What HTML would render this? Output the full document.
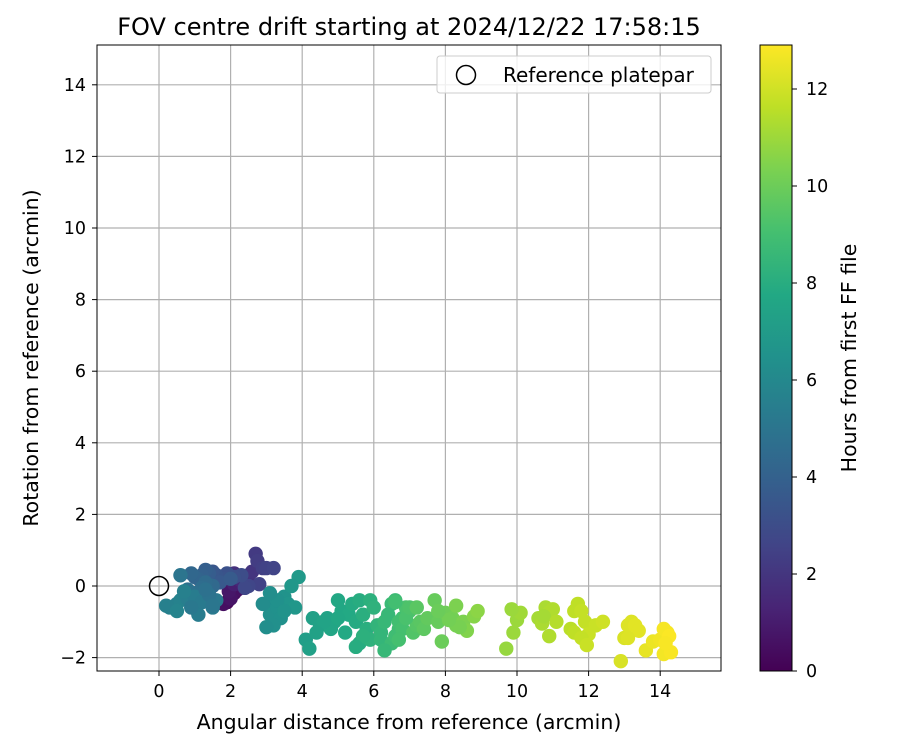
<!DOCTYPE html>
<html><head><meta charset="utf-8"><style>
body{margin:0;background:#fff;font-family:"Liberation Sans","DejaVu Sans",sans-serif}
svg text{font-family:"DejaVu Sans","Liberation Sans",sans-serif;fill:#000}
</style></head><body>
<svg id="c" width="900" height="750" xmlns="http://www.w3.org/2000/svg">
<defs>
<linearGradient id="vir" x1="0" y1="1" x2="0" y2="0">
<stop offset="0" stop-color="#440154"/><stop offset="0.1" stop-color="#482475"/><stop offset="0.2" stop-color="#414487"/><stop offset="0.3" stop-color="#355f8d"/><stop offset="0.4" stop-color="#2a788e"/><stop offset="0.5" stop-color="#21918c"/><stop offset="0.6" stop-color="#22a884"/><stop offset="0.7" stop-color="#44bf70"/><stop offset="0.8" stop-color="#7ad151"/><stop offset="0.9" stop-color="#bddf26"/><stop offset="1" stop-color="#fde725"/>
</linearGradient>
<clipPath id="plotclip"><rect x="97" y="45" width="624" height="626"/></clipPath>
</defs>
<text x="409" y="35" font-size="24" text-anchor="middle">FOV centre drift starting at 2024/12/22 17:58:15</text>
<g id="grid"></g>
<g id="pts" clip-path="url(#plotclip)"></g>
<rect x="97" y="45" width="624" height="626" fill="none" stroke="#000" stroke-width="1"/>
<g id="ticks"></g>
<text x="409" y="729" font-size="20.5" text-anchor="middle">Angular distance from reference (arcmin)</text>
<text transform="translate(38,358) rotate(-90)" font-size="20.5" text-anchor="middle">Rotation from reference (arcmin)</text>
<g>
<rect x="437" y="56" width="274" height="37" rx="3" fill="#fff" stroke="#ccc" stroke-width="1" fill-opacity="0.8"/>
<circle cx="466" cy="75" r="9.5" fill="none" stroke="#000" stroke-width="1.5"/>
<text x="503" y="82" font-size="20">Reference platepar</text>
</g>
<rect x="760" y="45" width="32" height="626" fill="url(#vir)" stroke="#000" stroke-width="1"/>
<g id="cbticks"></g>
<text transform="translate(856,358) rotate(-90)" font-size="20.5" text-anchor="middle">Hours from first FF file</text>
</svg>
<script>
const xTicks=[0,2,4,6,8,10,12,14];
const yTicks=[-2,0,2,4,6,8,10,12,14];
const cbTicks=[0,2,4,6,8,10,12];
const xs=[1.9,2.0,2.1,1.8,2.2,2.0,1.95,2.3,2.1,2.2,2.4,2.3,2.5,2.1,2.6,2.7,2.75,2.9,3.0,3.2,2.8,2.5,2.4,2.3,2.1,1.9,1.8,1.6,1.5,1.7,2.0,1.4,1.3,1.2,1.1,1.0,0.9,1.5,1.3,1.2,1.0,0.8,0.6,0.7,1.6,1.5,1.1,0.5,0.3,0.2,0.6,0.5,0.8,1.0,1.2,0.7,0.9,1.4,1.3,1.5,3.0,3.1,3.3,3.5,3.4,3.6,3.8,3.9,3.7,3.2,3.0,3.3,3.5,2.9,3.1,4.1,4.2,4.3,4.5,4.7,4.9,5.0,5.1,4.8,4.6,4.4,5.3,5.5,5.2,5.6,5.8,5.0,5.4,5.6,5.7,5.9,6.0,6.1,5.9,5.7,5.5,6.2,6.3,6.5,6.6,6.4,6.2,6.7,6.8,6.5,6.3,6.6,6.7,6.9,7.0,6.8,6.6,7.1,7.2,6.9,6.7,7.0,7.3,7.4,7.5,7.2,7.8,7.9,7.7,8.0,8.2,8.3,8.5,8.6,8.4,8.8,8.9,8.1,7.8,8.3,9.7,9.9,10.0,10.1,9.85,10.6,10.7,10.8,10.9,11.0,10.75,11.1,10.9,11.5,11.6,11.7,11.8,11.9,12.0,12.2,11.6,12.4,11.8,11.95,13.0,13.1,13.2,13.3,13.4,13.1,13.6,13.8,12.9,14.0,14.1,14.2,14.3,14.1,14.25,14.15];
const ys=[-0.45,-0.3,-0.2,-0.5,-0.1,-0.35,-0.15,0.1,0.05,0.2,-0.05,0.15,0.3,0.35,0.4,0.9,0.7,0.5,0.5,0.5,0.05,0.0,-0.05,0.3,0.25,0.35,0.2,0.3,0.4,0.1,0.2,0.35,0.45,0.3,0.2,0.25,0.35,0.0,0.1,-0.05,-0.2,-0.1,0.3,-0.3,-0.4,-0.6,-0.8,-0.5,-0.6,-0.55,-0.4,-0.7,-0.35,-0.3,-0.45,-0.15,-0.6,-0.25,-0.1,-0.55,-0.5,-0.8,-0.6,-0.3,-0.9,-0.5,-0.6,0.25,0.0,-1.1,-1.15,-0.4,-0.7,-0.5,-0.2,-1.5,-1.75,-0.9,-1.1,-0.9,-1.0,-0.4,-0.7,-1.2,-1.0,-1.3,-0.8,-1.0,-1.3,-1.6,-1.2,-0.9,-0.5,-0.4,-0.8,-0.4,-0.6,-1.1,-1.5,-1.4,-1.7,-1.3,-1.0,-0.5,-0.4,-0.8,-1.5,-1.2,-0.9,-1.6,-1.8,-1.4,-1.0,-0.6,-0.7,-1.2,-0.45,-1.3,-1.1,-0.9,-1.5,-0.6,-1.0,-1.2,-0.9,-0.6,-1.0,-1.55,-0.4,-0.75,-0.9,-1.1,-1.0,-1.25,-1.15,-0.85,-0.7,-0.95,-0.7,-0.55,-1.75,-1.3,-0.95,-0.75,-0.65,-0.9,-1.05,-0.6,-0.75,-0.65,-0.85,-1.0,-1.4,-1.2,-0.7,-0.5,-0.7,-1.0,-1.35,-1.1,-1.3,-1.0,-1.45,-1.65,-1.45,-1.1,-1.0,-1.1,-1.25,-1.45,-1.8,-1.55,-2.1,-1.5,-1.9,-1.3,-1.85,-1.2,-1.4,-1.6,-2.15,-2.05,-2.0];
const hrs=[0.2,0.3,0.4,0.5,0.6,0.7,0.8,1.0,1.1,1.3,1.4,1.5,1.7,1.8,2.0,2.2,2.3,2.4,2.5,2.6,2.5,2.7,2.8,3.0,3.1,3.2,3.3,3.4,3.5,3.6,3.7,3.8,3.9,4.0,4.1,4.2,4.3,4.4,4.5,4.6,4.7,4.8,5.0,5.1,5.2,5.3,5.4,5.5,5.6,5.6,5.7,5.8,5.5,5.4,5.3,5.6,5.2,4.9,4.8,5.1,6.3,6.4,6.5,6.6,6.5,6.7,6.8,6.9,6.8,6.4,6.3,6.5,6.6,6.2,6.3,7.2,7.3,7.3,7.4,7.5,7.6,7.7,7.7,7.6,7.5,7.4,7.8,7.9,7.8,8.0,8.1,7.7,7.9,8.0,8.1,8.2,8.3,8.4,8.3,8.2,8.0,8.5,8.6,8.7,8.8,8.6,8.5,8.9,9.0,8.8,8.6,8.9,9.0,9.2,9.3,9.1,9.0,9.4,9.5,9.2,9.1,9.3,9.6,9.7,9.8,9.6,9.9,10.0,9.9,10.1,10.2,10.3,10.4,10.5,10.3,10.6,10.7,10.2,10.0,10.4,10.9,11.0,11.0,11.1,11.0,11.2,11.3,11.3,11.4,11.4,11.2,11.5,11.4,11.6,11.7,11.7,11.8,11.8,11.9,11.9,11.7,12.0,11.8,11.9,12.2,12.3,12.3,12.4,12.4,12.3,12.5,12.6,12.2,12.7,12.75,12.8,12.85,12.8,12.9,12.85];
const X0=159,XS=35.8,Y0=586,YS=35.8,CB0=671,CBS=48.5;
const sx=v=>X0+v*XS, sy=v=>Y0-v*YS, sc=v=>CB0-v*CBS;
const stops=[[0,68,1,84],[0.1,72,36,117],[0.2,65,68,135],[0.3,53,95,141],[0.4,42,120,142],[0.5,33,145,140],[0.6,34,168,132],[0.7,68,191,112],[0.8,122,209,81],[0.9,189,223,38],[1,253,231,37]];
function vir(t){t=Math.max(0,Math.min(1,t));for(let i=1;i<stops.length;i++){if(t<=stops[i][0]){const a=stops[i-1],b=stops[i],f=(t-a[0])/(b[0]-a[0]);return 'rgb('+[1,2,3].map(k=>Math.round(a[k]+(b[k]-a[k])*f)).join(',')+')';}}return 'rgb(253,231,37)';}
const NS='http://www.w3.org/2000/svg';
function mk(tag,attrs,parent){const e=document.createElementNS(NS,tag);for(const k in attrs)e.setAttribute(k,attrs[k]);parent.appendChild(e);return e;}
const grid=document.getElementById('grid'),ticks=document.getElementById('ticks'),pts=document.getElementById('pts'),cbt=document.getElementById('cbticks');
xTicks.forEach(v=>{const x=sx(v);
const g=mk('line',{x1:x,x2:x,y1:45,y2:671,stroke:'#b0b0b0','stroke-width':1.2},grid);


mk('line',{x1:x,x2:x,y1:671,y2:676,stroke:'#000'},ticks);
const t=mk('text',{x:x,y:697,'font-size':17.5,'text-anchor':'middle'},ticks);t.textContent=v;

});
yTicks.forEach(v=>{const y=sy(v);
const g=mk('line',{x1:97,x2:721,y1:y,y2:y,stroke:'#b0b0b0','stroke-width':1.2},grid);


mk('line',{x1:92,x2:97,y1:y,y2:y,stroke:'#000'},ticks);
const t=mk('text',{x:86,y:y+6,'font-size':17.5,'text-anchor':'end'},ticks);t.textContent=(v<0?'\u2212'+(-v):v);

});
cbTicks.forEach(v=>{const y=sc(v);
mk('line',{x1:792,x2:797,y1:y,y2:y,stroke:'#000'},cbt);
const t=mk('text',{x:806,y:y+6,'font-size':17.5},cbt);t.textContent=v;

});
xs.forEach((x,i)=>{const c=mk('circle',{cx:sx(x),cy:sy(ys[i]),r:7.2,fill:vir(hrs[i]/12.95)},pts);

});
const ref=mk('circle',{cx:sx(0),cy:sy(0),r:9.5,fill:'none',stroke:'#000','stroke-width':1.5},pts);


</script>
</body></html>
